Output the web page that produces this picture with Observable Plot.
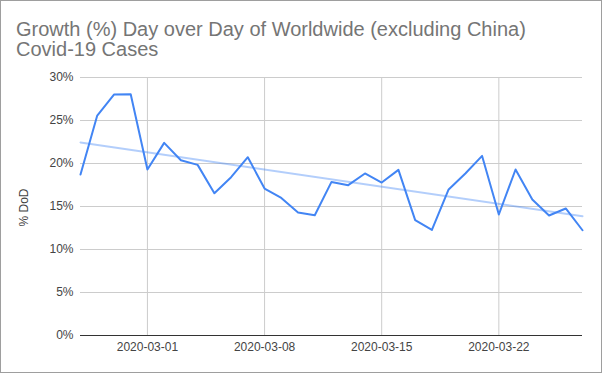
<!DOCTYPE html>
<html>
<head>
<meta charset="utf-8">
<script src="https://cdn.jsdelivr.net/npm/d3@7"></script>
<script src="https://cdn.jsdelivr.net/npm/@observablehq/plot@0.6"></script>
<style>
  html, body { margin: 0; padding: 0; background: #fff; }
  #wrap { position: relative; width: 602px; height: 373px; overflow: hidden; font-family: "Liberation Sans", Arial, sans-serif; }
  #title { position: absolute; left: 16px; top: 19px; font-size: 20px; line-height: 20px; color: #757575; }
  #border { position: absolute; left: 0; top: 0; width: 602px; height: 373px; box-sizing: border-box; border: 1px solid #9e9e9e; pointer-events: none; }
  #chart svg { display: block; }
</style>
</head>
<body>
<div id="wrap">
  <div id="chart"></div>
  <div id="title">Growth (%) Day over Day of Worldwide (excluding China)<br>Covid-19 Cases</div>
  <div id="border"></div>
</div>
<script>
const dates = [
  "2020-02-26","2020-02-27","2020-02-28","2020-02-29",
  "2020-03-01","2020-03-02","2020-03-03","2020-03-04","2020-03-05","2020-03-06","2020-03-07",
  "2020-03-08","2020-03-09","2020-03-10","2020-03-11","2020-03-12","2020-03-13","2020-03-14",
  "2020-03-15","2020-03-16","2020-03-17","2020-03-18","2020-03-19","2020-03-20","2020-03-21",
  "2020-03-22","2020-03-23","2020-03-24","2020-03-25","2020-03-26","2020-03-27"
];
const growthPct = [
  18.72, 25.58, 28.02, 28.06,
  19.30, 22.40, 20.38, 19.84, 16.55, 18.41, 20.73,
  17.09, 16.00, 14.30, 13.99, 17.86, 17.48, 18.84,
  17.79, 19.26, 13.41, 12.28, 16.98, 18.84, 20.88,
  14.07, 19.30, 15.81, 13.95, 14.77, 12.24
];
const xTickLabels = ["2020-03-01", "2020-03-08", "2020-03-15", "2020-03-22"];
const yTicks = [0, 5, 10, 15, 20, 25, 30];
const yLabel = "% DoD";

const parse = d3.utcParse("%Y-%m-%d");
const data = dates.map((d, i) => ({date: parse(d), value: growthPct[i]}));
const xTicks = xTickLabels.map(parse);

const chart = Plot.plot({
  width: 602,
  height: 373,
  marginTop: 77,
  marginLeft: 80,
  marginRight: 20,
  marginBottom: 38,
  style: {fontFamily: "'Liberation Sans', Arial, sans-serif", fontSize: "12px", color: "#444", background: "transparent"},
  x: {type: "utc", domain: [data[0].date, data[data.length - 1].date]},
  y: {domain: [0, 30]},
  marks: [
    Plot.gridX(xTicks, {stroke: "#cccccc", strokeOpacity: 1}),
    Plot.gridY(yTicks.filter(t => t !== 0), {stroke: "#cccccc", strokeOpacity: 1}),
    Plot.axisY({ticks: yTicks, tickSize: 0, tickPadding: 7, tickFormat: d => d + "%", label: null, fill: "#444"}),
    Plot.axisX({ticks: xTicks, tickSize: 0, tickPadding: 7, tickFormat: d3.utcFormat("%Y-%m-%d"), label: null, fill: "#444"}),
    Plot.ruleY([0], {stroke: "#333333", strokeWidth: 1}),
    Plot.text([yLabel], {frameAnchor: "left", dx: -56, dy: 20, rotate: -90, fill: "#444", fontSize: 12}),
    Plot.linearRegressionY(data, {x: "date", y: "value", stroke: "#4285f4", strokeOpacity: 0.4, strokeWidth: 2, ci: 0}),
    Plot.line(data, {x: "date", y: "value", stroke: "#4285f4", strokeWidth: 2})
  ]
});
document.getElementById("chart").appendChild(chart);
</script>
</body>
</html>
